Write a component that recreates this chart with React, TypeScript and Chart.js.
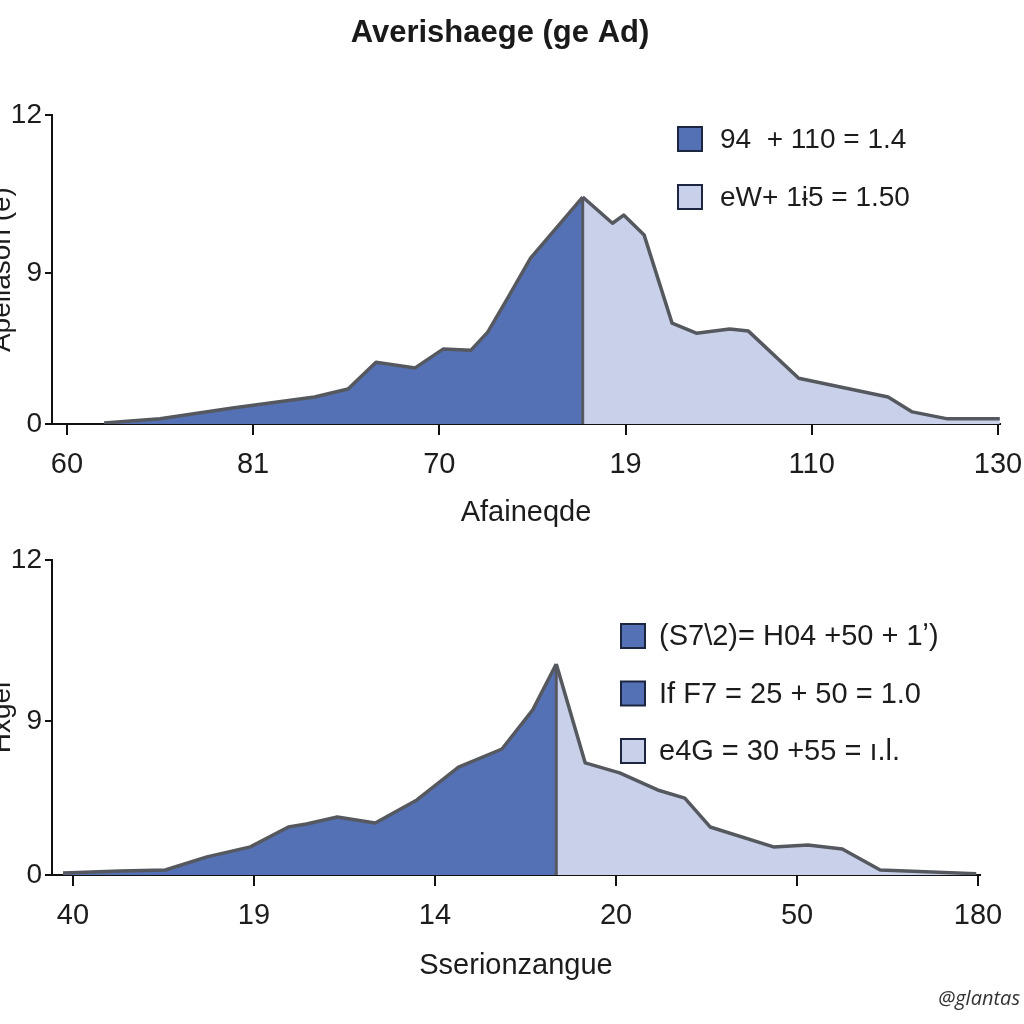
import React, { useEffect, useRef } from "react";
import { Chart, registerables } from "chart.js";

Chart.register(...registerables);

// ---------- data ----------
// Top panel (x in tick-index units, y in axis units 0..12)
const topXTickLabels = ["60", "81", "70", "19", "110", "130"];
const topDarkX = [0.2, 0.5, 0.89, 1.33, 1.51, 1.66, 1.87, 2.02, 2.17, 2.26, 2.37, 2.49, 2.77];
const topDarkY = [0.04, 0.2, 0.62, 1.05, 1.36, 2.4, 2.18, 2.91, 2.87, 3.57, 4.93, 6.45, 8.82];
const topLightX = [2.77, 2.93, 2.99, 3.1, 3.25, 3.38, 3.56, 3.66, 3.93, 4.41, 4.54, 4.73, 5.01];
const topLightY = [8.82, 7.8, 8.12, 7.34, 3.92, 3.53, 3.69, 3.61, 1.78, 1.05, 0.47, 0.2, 0.2];
const topLegendLabels = ["94  + 110 = 1.4", "eW+ 1ɨ5 = 1.50"];

// Bottom panel
const botXTickLabels = ["40", "19", "14", "20", "50", "180"];
const botDarkX = [-0.055, 0.26, 0.51, 0.74, 0.98, 1.19, 1.29, 1.46, 1.67, 1.9, 2.13, 2.37, 2.54, 2.67];
const botDarkY = [0.08, 0.15, 0.19, 0.69, 1.07, 1.83, 1.94, 2.21, 1.98, 2.86, 4.11, 4.8, 6.29, 8.04];
const botLightX = [2.67, 2.83, 3.02, 3.23, 3.38, 3.52, 3.87, 4.06, 4.25, 4.46, 4.99];
const botLightY = [8.04, 4.27, 3.89, 3.24, 2.93, 1.83, 1.07, 1.14, 0.99, 0.19, 0.05];
const botLegendLabels = ["(S7\\2)= H04 +50 + 1ʼ)", "If F7 = 25 + 50 = 1.0", "e4G = 30 +55 = ı.l."];

// shared y axis
const yTickPositions = [0, 5.85, 12];
const yTickLabels = ["0", "9", "12"];
const xTickPositions = [0, 1, 2, 3, 4, 5];

// ---------- style ----------
const FONT = "'Liberation Sans', Arial, Helvetica, sans-serif";
const DARK = "#5571b5";
const LIGHT = "#c9d1ea";
const OUTLINE = "#55595f";
const AXIS = "#111111";
const TEXT = "#1c1c1c";

const legendPlugin = {
  id: "panelLegend",
  afterDraw(chart: any) {
    const o = chart.options.plugins.panelLegend;
    if (!o) return;
    const ctx = chart.ctx;
    ctx.save();
    ctx.font = `${o.fontSize}px ${FONT}`;
    ctx.textBaseline = "middle";
    ctx.textAlign = "left";
    o.labels.forEach((t: string, i: number) => {
      const cy = o.y + i * o.gap;
      ctx.fillStyle = o.colors[i];
      ctx.fillRect(o.x, cy - o.box / 2, o.box, o.box);
      ctx.lineWidth = 2;
      ctx.strokeStyle = "#1d2640";
      ctx.strokeRect(o.x, cy - o.box / 2, o.box, o.box);
      ctx.fillStyle = TEXT;
      ctx.fillText(t, o.x + o.box + o.textGap, cy + 1);
    });
    ctx.restore();
  },
};

function pts(xs: number[], ys: number[]) {
  return xs.map((x, i) => ({ x, y: ys[i] }));
}

function makeConfig(p: any) {
  const peakX = p.darkX[p.darkX.length - 1];
  const peakY = p.darkY[p.darkY.length - 1];
  return {
    type: "line",
    data: {
      datasets: [
        {
          data: [{ x: peakX, y: 0 }, { x: peakX, y: peakY }],
          borderColor: OUTLINE,
          borderWidth: 3,
          pointRadius: 0,
          fill: false,
        },
        {
          data: pts(p.darkX, p.darkY),
          borderColor: OUTLINE,
          backgroundColor: DARK,
          borderWidth: 3.5,
          borderJoinStyle: "round",
          pointRadius: 0,
          fill: "origin",
          tension: 0,
        },
        {
          data: pts(p.lightX, p.lightY),
          borderColor: OUTLINE,
          backgroundColor: LIGHT,
          borderWidth: 3.5,
          borderJoinStyle: "round",
          pointRadius: 0,
          fill: "origin",
          tension: 0,
        },
      ],
    },
    options: {
      responsive: false,
      animation: false,
      layout: { padding: p.layoutPadding },
      plugins: {
        legend: { display: false },
        tooltip: { enabled: false },
        title: p.title
          ? {
              display: true,
              text: p.title,
              color: "#1a1a1a",
              font: { family: FONT, size: 31, weight: "bold" },
              padding: { top: 15, bottom: 63 },
            }
          : { display: false },
        panelLegend: p.legend,
      },
      scales: {
        x: {
          type: "linear",
          min: p.xMin,
          max: p.xMax,
          afterBuildTicks: (s: any) => {
            s.ticks = xTickPositions.map((v) => ({ value: v }));
          },
          afterFit: (s: any) => {
            s.height = p.xHeight;
            s.paddingLeft = 0;
            s.paddingRight = 0;
          },
          ticks: {
            autoSkip: false,
            maxRotation: 0,
            padding: p.xTickPad,
            color: TEXT,
            font: { family: FONT, size: 29 },
            callback: (_v: any, i: number) => p.xLabels[i],
          },
          grid: {
            display: true,
            drawOnChartArea: false,
            drawTicks: true,
            tickLength: 11,
            color: AXIS,
            lineWidth: 2,
          },
          border: { display: true, color: AXIS, width: 2 },
          title: {
            display: true,
            text: p.xTitle,
            color: TEXT,
            font: { family: FONT, size: 29 },
            padding: { top: 0, bottom: p.xTitlePad },
          },
        },
        y: {
          type: "linear",
          min: 0,
          max: 12,
          afterBuildTicks: (s: any) => {
            s.ticks = yTickPositions.map((v) => ({ value: v }));
          },
          afterFit: (s: any) => {
            s.width = 52;
          },
          ticks: {
            padding: 3,
            color: TEXT,
            font: { family: FONT, size: 28 },
            callback: (_v: any, i: number) => yTickLabels[i],
          },
          grid: {
            display: true,
            drawOnChartArea: false,
            drawTicks: true,
            tickLength: 7,
            color: AXIS,
            lineWidth: 2,
          },
          border: { display: true, color: AXIS, width: 2 },
          title: {
            display: true,
            text: p.yTitle,
            color: TEXT,
            font: { family: FONT, size: 28 },
            padding: { top: -15, bottom: 0 },
          },
        },
      },
    },
    plugins: [legendPlugin],
  };
}

export default function App() {
  const topRef = useRef<HTMLCanvasElement>(null);
  const botRef = useRef<HTMLCanvasElement>(null);

  useEffect(() => {
    const top = new Chart(
      topRef.current as HTMLCanvasElement,
      makeConfig({
        darkX: topDarkX,
        darkY: topDarkY,
        lightX: topLightX,
        lightY: topLightY,
        xLabels: topXTickLabels,
        title: "Averishaege (ge Ad)",
        xTitle: "Afaineqde",
        yTitle: "Apellasoh (e)",
        xMin: -0.08,
        xMax: 5.011,
        xHeight: 116,
        xTickPad: 13,
        xTitlePad: 10,
        layoutPadding: { left: 0, right: 24, top: 0, bottom: 0 },
        legend: {
          labels: topLegendLabels,
          colors: [DARK, LIGHT],
          x: 678,
          y: 139,
          gap: 58,
          box: 24,
          textGap: 18,
          fontSize: 28,
        },
      }) as any
    );
    const bot = new Chart(
      botRef.current as HTMLCanvasElement,
      makeConfig({
        darkX: botDarkX,
        darkY: botDarkY,
        lightX: botLightX,
        lightY: botLightY,
        xLabels: botXTickLabels,
        title: null,
        xTitle: "Sserionzangue",
        yTitle: "Hxgel",
        xMin: -0.116,
        xMax: 5.011,
        xHeight: 125,
        xTickPad: 13,
        xTitlePad: 17,
        layoutPadding: { left: 0, right: 44, top: 20, bottom: 0 },
        legend: {
          labels: botLegendLabels,
          colors: [DARK, DARK, LIGHT],
          x: 621,
          y: 96,
          gap: 57.5,
          box: 24,
          textGap: 14,
          fontSize: 29,
        },
      }) as any
    );
    return () => {
      top.destroy();
      bot.destroy();
    };
  }, []);

  return (
    <div
      style={{
        position: "absolute",
        left: 0,
        top: 0,
        width: 1024,
        height: 1024,
        background: "#ffffff",
        overflow: "hidden",
      }}
    >
      <canvas
        ref={topRef}
        width={1024}
        height={540}
        style={{ position: "absolute", left: 0, top: 0, display: "block" }}
      />
      <canvas
        ref={botRef}
        width={1024}
        height={460}
        style={{ position: "absolute", left: 0, top: 540, display: "block" }}
      />
      <div
        style={{
          position: "absolute",
          right: 4,
          top: 984,
          fontFamily: "'Open Sans', 'DejaVu Sans', sans-serif",
          fontStyle: "italic",
          fontSize: 20,
          color: "#333",
        }}
      >
        @glantas
      </div>
    </div>
  );
}
